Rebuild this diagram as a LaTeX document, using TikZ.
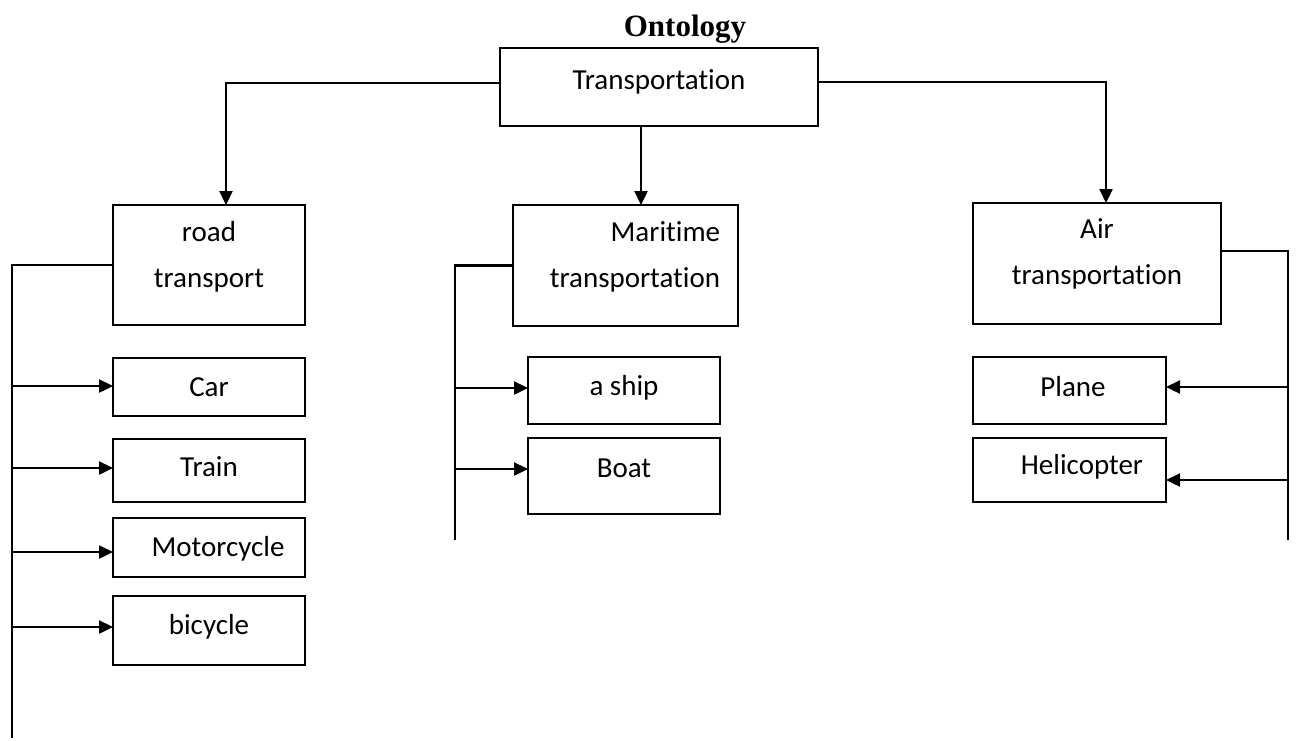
\documentclass[tikz,border=0pt]{standalone}
\usepackage{fontspec}
\setmainfont{Carlito}[Ligatures=NoCommon]
\newfontfamily\titlefont{Liberation Serif}
\usetikzlibrary{arrows.meta}
\tikzset{
  box/.style={draw, line width=2pt, inner sep=0pt, outer sep=0pt},
  lbl/.style={font=\fontsize{29}{46}\selectfont, text height=18pt, text depth=0pt, inner sep=0pt, align=center},
  conn/.style={line width=2.4pt},
  arr/.style={line width=2.4pt, -{Triangle[length=14pt,width=13pt]}},
}
\begin{document}
\begin{tikzpicture}[x=1pt,y=-1pt]
\useasboundingbox (0,0) rectangle (1297,740);
% title
\node[anchor=base, inner sep=0pt, font=\titlefont\bfseries\fontsize{31}{31}\selectfont] (title) at (685,36) {Ontology};
% boxes
\node[box, minimum width=318, minimum height=78, label={[lbl, yshift=7pt]center:Transportation}] (trans) at (659,87) {};
\node[box, minimum width=192, minimum height=120, label={[lbl, yshift=-13pt]center:{road\\transport}}] (road) at (209,265) {};
\node[box, minimum width=225, minimum height=121, label={[lbl, align=right, xshift=9.5pt, yshift=-12.5pt]center:{Maritime\\transportation}}] (mar) at (625.5,265.5) {};
\node[box, minimum width=248, minimum height=121, label={[lbl, yshift=-11.5pt]center:{Air\\transportation}}] (air) at (1097,263.5) {};
\node[box, minimum width=192, minimum height=58, label={[lbl]center:Car}] (car) at (209,387) {};
\node[box, minimum width=192, minimum height=63, label={[lbl, yshift=3.5pt]center:Train}] (train) at (209,470.5) {};
\node[box, minimum width=192, minimum height=59, label={[lbl, xshift=9pt]center:Motorcycle}] (moto) at (209,547.5) {};
\node[box, minimum width=192, minimum height=69, label={[lbl, yshift=5pt]center:bicycle}] (bike) at (209,630.5) {};
\node[box, minimum width=192, minimum height=67, label={[lbl, yshift=4.5pt]center:a ship}] (ship) at (624,390.5) {};
\node[box, minimum width=192, minimum height=76, label={[lbl, yshift=8pt]center:Boat}] (boat) at (624,476) {};
\node[box, minimum width=193, minimum height=67, label={[lbl, xshift=3.5pt, yshift=3.5pt]center:Plane}] (plane) at (1069.5,390.5) {};
\node[box, minimum width=193, minimum height=64, label={[lbl, xshift=12.5pt, yshift=5pt]center:Helicopter}] (heli) at (1069.5,470) {};
% top connectors
\coordinate (mx) at (641,0);
\draw[arr] ([yshift=4pt]trans.west) -| ([xshift=17pt]road.north);
\draw[arr] ([yshift=5pt]trans.east) -| ([xshift=9pt]air.north);
\draw[arr] (trans.south -| mx) -- (mar.north -| mx);
% buses
\coordinate (lbot) at (12,738);
\coordinate (mbot) at (455,540);
\coordinate (abot) at (1288,540);
\draw[conn] (road.west) -| (lbot);
\draw[conn] (mar.west) -| (mbot);
\draw[conn] ([yshift=12.5pt]air.east) -| (abot);
% bus arrows
\coordinate (l1) at (12,386);
\coordinate (l2) at (12,468);
\coordinate (l3) at (12,552);
\coordinate (l4) at (12,627);
\draw[arr] (l1) -- (l1 -| car.west);
\draw[arr] (l2) -- (l2 -| train.west);
\draw[arr] (l3) -- (l3 -| moto.west);
\draw[arr] (l4) -- (l4 -| bike.west);
\coordinate (m1) at (455,388);
\coordinate (m2) at (455,469);
\draw[arr] (m1) -- (m1 -| ship.west);
\draw[arr] (m2) -- (m2 -| boat.west);
\coordinate (a1) at (1288,387);
\coordinate (a2) at (1288,480);
\draw[arr] (a1) -- (a1 -| plane.east);
\draw[arr] (a2) -- (a2 -| heli.east);
\end{tikzpicture}
\end{document}
